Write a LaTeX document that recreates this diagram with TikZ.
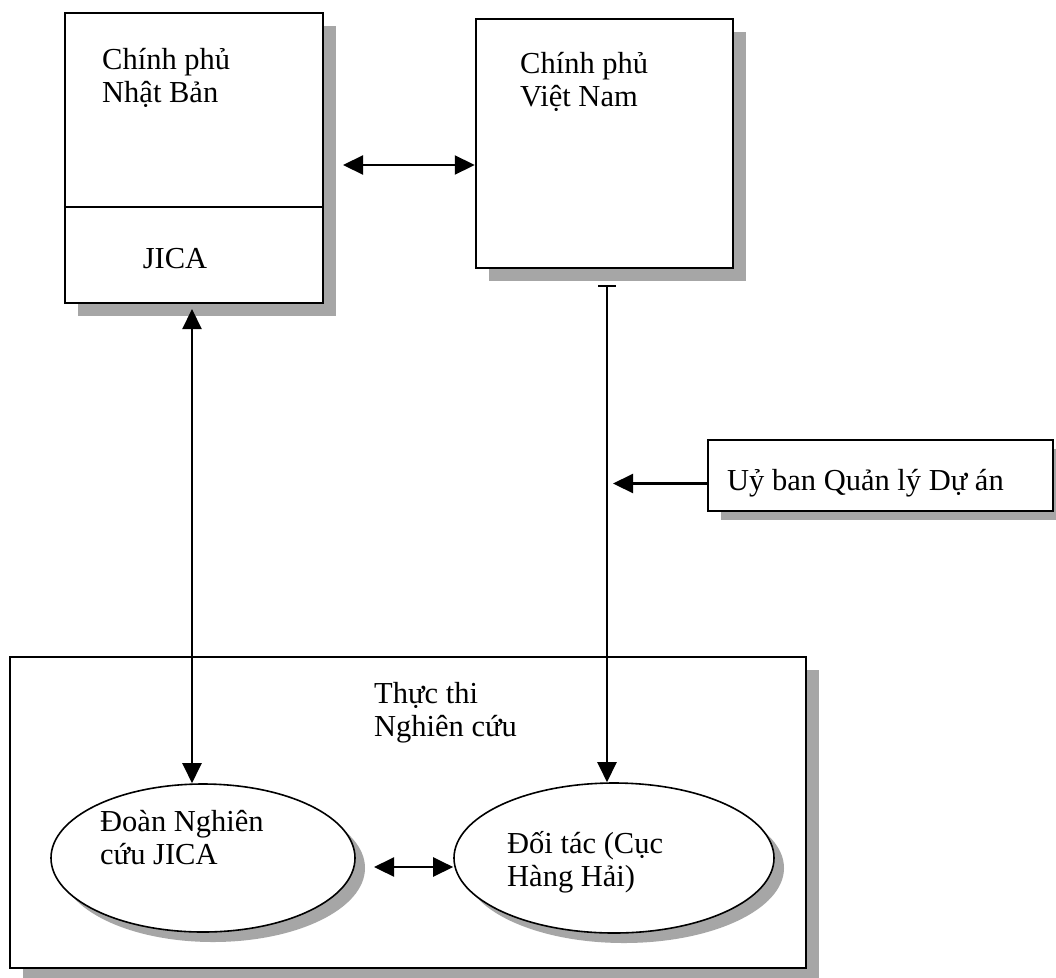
\documentclass[tikz,border=0pt]{standalone}
\usepackage{fontspec}
\setmainfont{Liberation Serif}
\usetikzlibrary{arrows.meta,calc,positioning,shapes.geometric}

\begin{document}
\begin{tikzpicture}[x=1pt,y=-1pt,
    >={Triangle[length=20pt,width=19pt]},
    box/.style={draw,fill=white,line width=2.5pt,inner sep=0pt},
    oval/.style={ellipse,draw,fill=white,line width=1.6pt,inner sep=0pt},
    shadow/.style={fill=black!35},
    txt/.style={anchor=base west,inner sep=0pt,align=left,font=\fontsize{30.5}{33}\selectfont},
    link/.style={line width=2.2pt}]

  \useasboundingbox (0,0) rectangle (1056,977);

  \pgfmathsetmacro{\sh}{13}

  % governments
  \fill[shadow] (65+\sh,13+\sh) rectangle (323+\sh,303+\sh);
  \node[box,minimum width=258,minimum height=290] (japan) at (194,158) {};
  \coordinate (split) at (0,207);
  \draw[line width=2.2pt] (japan.west |- split) -- (japan.east |- split);
  \node[txt] (japantext) at (102,102) {Chính phủ\\Nhật Bản};
  \node[txt,anchor=base] (jica) at (175,268) {JICA};

  \fill[shadow] (476+\sh,19+\sh) rectangle (733+\sh,268+\sh);
  \node[box,minimum width=257,minimum height=249] (vietnam) at (604.5,143.5) {};
  \node[txt] (vietnamtext) at (520,106) {Chính phủ\\Việt Nam};

  \fill[shadow] (708+\sh,440+9) rectangle (1053+\sh,511+9);
  \node[box,minimum width=345,minimum height=71] (committee) at (880.5,475.5) {};
  \node[txt] (committeetext) at (727,490) {Uỷ ban Quản lý Dự án};

  % study
  \fill[shadow] (10+\sh,657+\sh) rectangle (806+\sh,968+\sh);
  \node[box,minimum width=796,minimum height=311] (study) at (408,812.5) {};
  \node[txt] (studytext) at (374,736) {Thực thi\\Nghiên cứu};

  \fill[shadow] (203+10,858+10) ellipse [x radius=152pt, y radius=74pt];
  \node[oval,minimum width=304,minimum height=148] (team) at (203,858) {};
  \node[txt] (teamtext) at (100,864) {Đoàn Nghiên\\cứu JICA};

  \fill[shadow] (614+10,858+10) ellipse [x radius=160pt, y radius=75pt];
  \node[oval,minimum width=320,minimum height=150] (partner) at (614,858) {};
  \node[txt] (partnertext) at (507,886) {Đối tác (Cục\\Hàng Hải)};

  % links
  \coordinate (jpvn) at (343,165);
  \draw[link,<->] (jpvn) -- (jpvn -| vietnam.west);

  \coordinate (jpteam) at (192,309);
  \draw[link,<->] (jpteam) -- (jpteam |- team.north);

  \coordinate (vnstem) at (607,285);
  \draw[link,{Bar[width=18pt,line width=1.8pt]}-{Triangle[length=20pt,width=19pt]}] (vnstem) -- (vnstem |- partner.north);

  \draw[link,->] ([yshift=-8pt]committee.west) -- ($(vnstem |- committee.west)+(6,8)$);

  \coordinate (tp) at (374,867);
  \draw[link,<->] (tp) -- (tp -| partner.west);

\end{tikzpicture}
\end{document}
